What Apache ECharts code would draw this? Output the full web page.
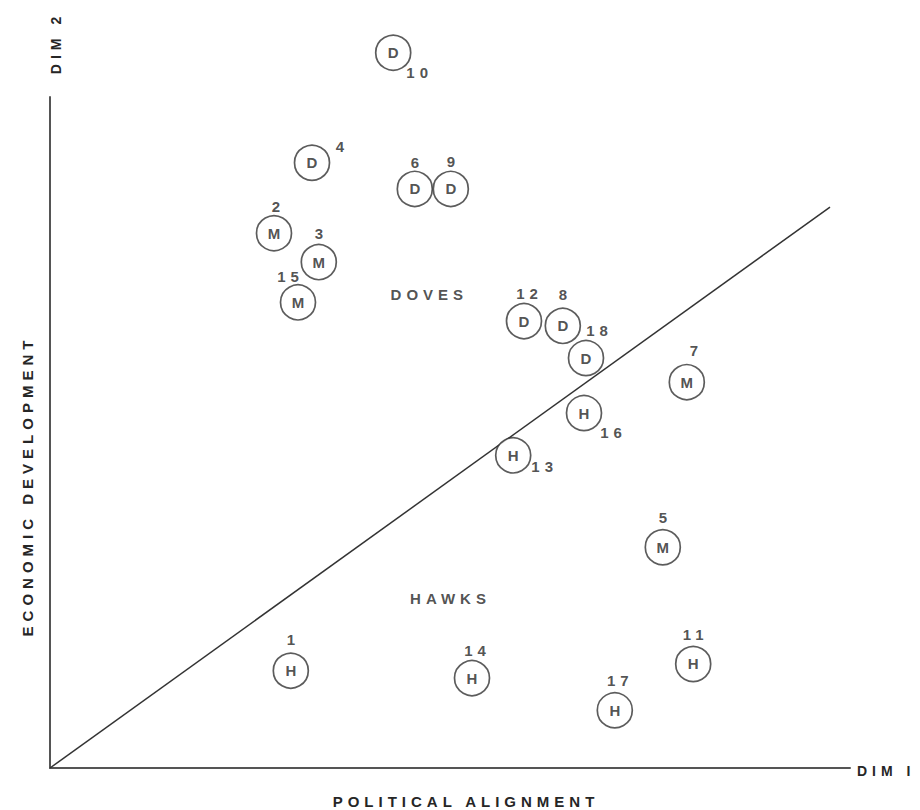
<!DOCTYPE html>
<html>
<head>
<meta charset="utf-8">
<script src="https://cdn.jsdelivr.net/npm/echarts@6/dist/echarts.min.js"></script>
<style>
  html, body { margin: 0; padding: 0; background: #fff; }
  #chart { width: 920px; height: 810px; }
  #chart svg text { letter-spacing: 5px; }
</style>
</head>
<body>
<div id="chart"></div>
<script>
// ---- data ----
const ids    = ['10','4','6','9','2','3','15','12','8','18','7','16','13','5','14','17','11','1'];
const groups = ['D','D','D','D','M','M','M','D','D','D','M','H','H','M','H','H','H','H'];
const dim1   = [42.9, 32.75, 45.6, 50.1, 28.0, 33.6, 31.0, 59.25, 64.1, 67.0, 79.6, 66.75, 57.9, 76.6, 52.75, 70.6, 80.4, 30.1];
const dim2   = [106.6, 90.2, 86.3, 86.3, 79.7, 75.4, 69.4, 66.6, 65.9, 61.1, 57.5, 52.9, 46.6, 32.9, 13.4, 8.6, 15.5, 14.5];
const regionNames = ['DOVES', 'HAWKS'];
const regionDim1  = [47.1, 49.75];
const regionDim2  = [70.5, 25.3];
const boundaryDim1 = [0, 97.5];
const boundaryDim2 = [0, 83.6];

// ---- styling (label placement of the id numbers, in px) ----
const idOffsets = [[24,20],[28,-16],[0,-26],[0,-27],[2,-27],[0,-29],[-10,-26],[3,-28],[0,-31],[11,-28],[7,-32],[27,19],[29,11],[0,-30],[3,-28],[3,-30],[0,-29],[0,-31]];

const FONT = '"Liberation Sans", Arial, sans-serif';
const INK = '#262626';

const circleData = dim1.map((x, i) => ({ value: [x, dim2[i]], name: groups[i] }));
const idData = dim1.map((x, i) => ({
  value: [x, dim2[i]], name: ids[i],
  label: { offset: [idOffsets[i][0] + 2.5, idOffsets[i][1]] }
}));
const regionData = regionNames.map((n, i) => ({ value: [regionDim1[i], regionDim2[i]], name: n }));
const boundaryData = boundaryDim1.map((x, i) => [x, boundaryDim2[i]]);

const chart = echarts.init(document.getElementById('chart'), null, { renderer: 'svg' });
chart.setOption({
  animation: false,
  backgroundColor: '#fff',
  grid: { left: 50, right: 70, top: 97, bottom: 42 },
  xAxis: {
    type: 'value', min: 0, max: 100,
    axisLine: { show: true, lineStyle: { color: '#555', width: 2 } },
    axisTick: { show: false }, axisLabel: { show: false }, splitLine: { show: false }
  },
  yAxis: {
    type: 'value', min: 0, max: 100,
    axisLine: { show: true, lineStyle: { color: '#555', width: 2 } },
    axisTick: { show: false }, axisLabel: { show: false }, splitLine: { show: false }
  },
  graphic: [
    { type: 'text', x: 466, y: 801, style: { text: 'POLITICAL ALIGNMENT', fill: INK, font: 'bold 15px ' + FONT, textAlign: 'center', textVerticalAlign: 'middle' } },
    { type: 'text', x: 27, y: 486, rotation: Math.PI / 2, style: { text: 'ECONOMIC DEVELOPMENT', fill: INK, font: 'bold 15px ' + FONT, textAlign: 'center', textVerticalAlign: 'middle' } },
    { type: 'text', x: 857, y: 771, style: { text: 'DIM I', fill: INK, font: 'bold 14px ' + FONT, textAlign: 'left', textVerticalAlign: 'middle' } },
    { type: 'text', x: 56, y: 43, rotation: Math.PI / 2, style: { text: 'DIM 2', fill: INK, font: 'bold 14px ' + FONT, textAlign: 'center', textVerticalAlign: 'middle' } }
  ],
  series: [
    {
      type: 'line', data: boundaryData, symbol: 'none', silent: true, z: 1,
      lineStyle: { color: '#333', width: 1.5 }
    },
    {
      type: 'scatter', data: circleData, symbol: 'circle', symbolSize: 35, clip: false, z: 3,
      itemStyle: { color: '#fff', borderColor: '#333', borderWidth: 1.7 },
      label: { show: true, position: 'inside', offset: [2.5, 0], formatter: '{b}', color: INK, fontFamily: FONT, fontSize: 15, fontWeight: 'bold' }
    },
    {
      type: 'scatter', data: idData, symbolSize: 1, clip: false, z: 4,
      itemStyle: { color: 'rgba(0,0,0,0)' },
      label: { show: true, position: 'inside', formatter: '{b}', color: INK, fontFamily: FONT, fontSize: 15, fontWeight: 'bold' }
    },
    {
      type: 'scatter', data: regionData, symbolSize: 1, clip: false, z: 4,
      itemStyle: { color: 'rgba(0,0,0,0)' },
      label: { show: true, position: 'inside', offset: [2.5, 0], formatter: '{b}', color: INK, fontFamily: FONT, fontSize: 15, fontWeight: 'bold' }
    }
  ]
});
</script>
</body>
</html>
